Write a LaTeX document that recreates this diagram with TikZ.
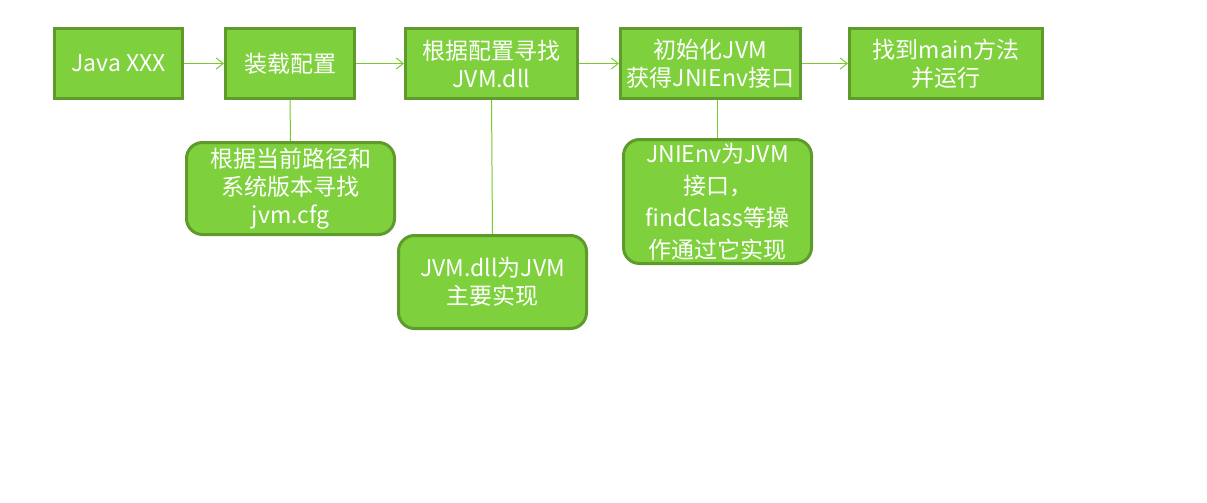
\documentclass[tikz,border=0pt]{standalone}
\usepackage{fontspec}
\setmainfont{Noto Sans CJK SC}
\usetikzlibrary{arrows.meta}
\definecolor{boxfill}{HTML}{7ED03C}
\definecolor{boxline}{HTML}{5E9B2C}
\definecolor{conn}{HTML}{78CC28}
\tikzset{
  stepbox/.style={draw=boxline, line width=3pt, fill=boxfill, text=white, align=center,
    inner sep=0pt, font=\fontsize{23}{28}\selectfont},
  notebox/.style={stepbox, rounded corners=16pt},
  conline/.style={draw=conn, line width=1pt},
  conarrow/.style={conline, -{Straight Barb[length=7pt,width=11pt,line width=1pt]}},
}
\begin{document}
\begin{tikzpicture}[x=1pt,y=-1pt]
\useasboundingbox (0,0) rectangle (1207,503);
\node[stepbox, minimum width=128pt, minimum height=70pt] (s1) at (118.5,63.5) {Java XXX};
\node[stepbox, minimum width=129pt, minimum height=70pt] (s2) at (290,63.5) {装载配置};
\node[stepbox, minimum width=172pt, minimum height=70pt] (s3) at (491.5,63.5) {根据配置寻找\\JVM.dll};
\node[stepbox, minimum width=180pt, minimum height=70pt] (s4) at (710.5,63.5) {初始化JVM\\获得JNIEnv接口};
\node[stepbox, minimum width=193pt, minimum height=70pt] (s5) at (946,63.5) {找到main方法\\并运行};
\node[notebox, minimum width=208pt, minimum height=92pt] (n1) at (290.5,188.5) {根据当前路径和\\系统版本寻找\\jvm.cfg};
\node[notebox, minimum width=188pt, minimum height=93pt] (n2) at (492.5,282) {JVM.dll为JVM\\主要实现};
\node[notebox, minimum width=188pt, minimum height=124pt, font=\fontsize{23}{32}\selectfont] (n3) at (717.5,201.5) {JNIEnv为JVM\\接口，\\findClass等操\\作通过它实现};
\draw[conarrow] (s1.east) -- (s2.west);
\draw[conarrow] (s2.east) -- (s3.west);
\draw[conarrow] (s3.east) -- (s4.west);
\draw[conarrow] (s4.east) -- (s5.west);
\draw[conline] (s2.south) -- (n1.north);
\draw[conline] (s3.south) -- (n2.north);
\draw[conline] (s4.south -| n3.north) -- (n3.north);
\end{tikzpicture}
\end{document}
